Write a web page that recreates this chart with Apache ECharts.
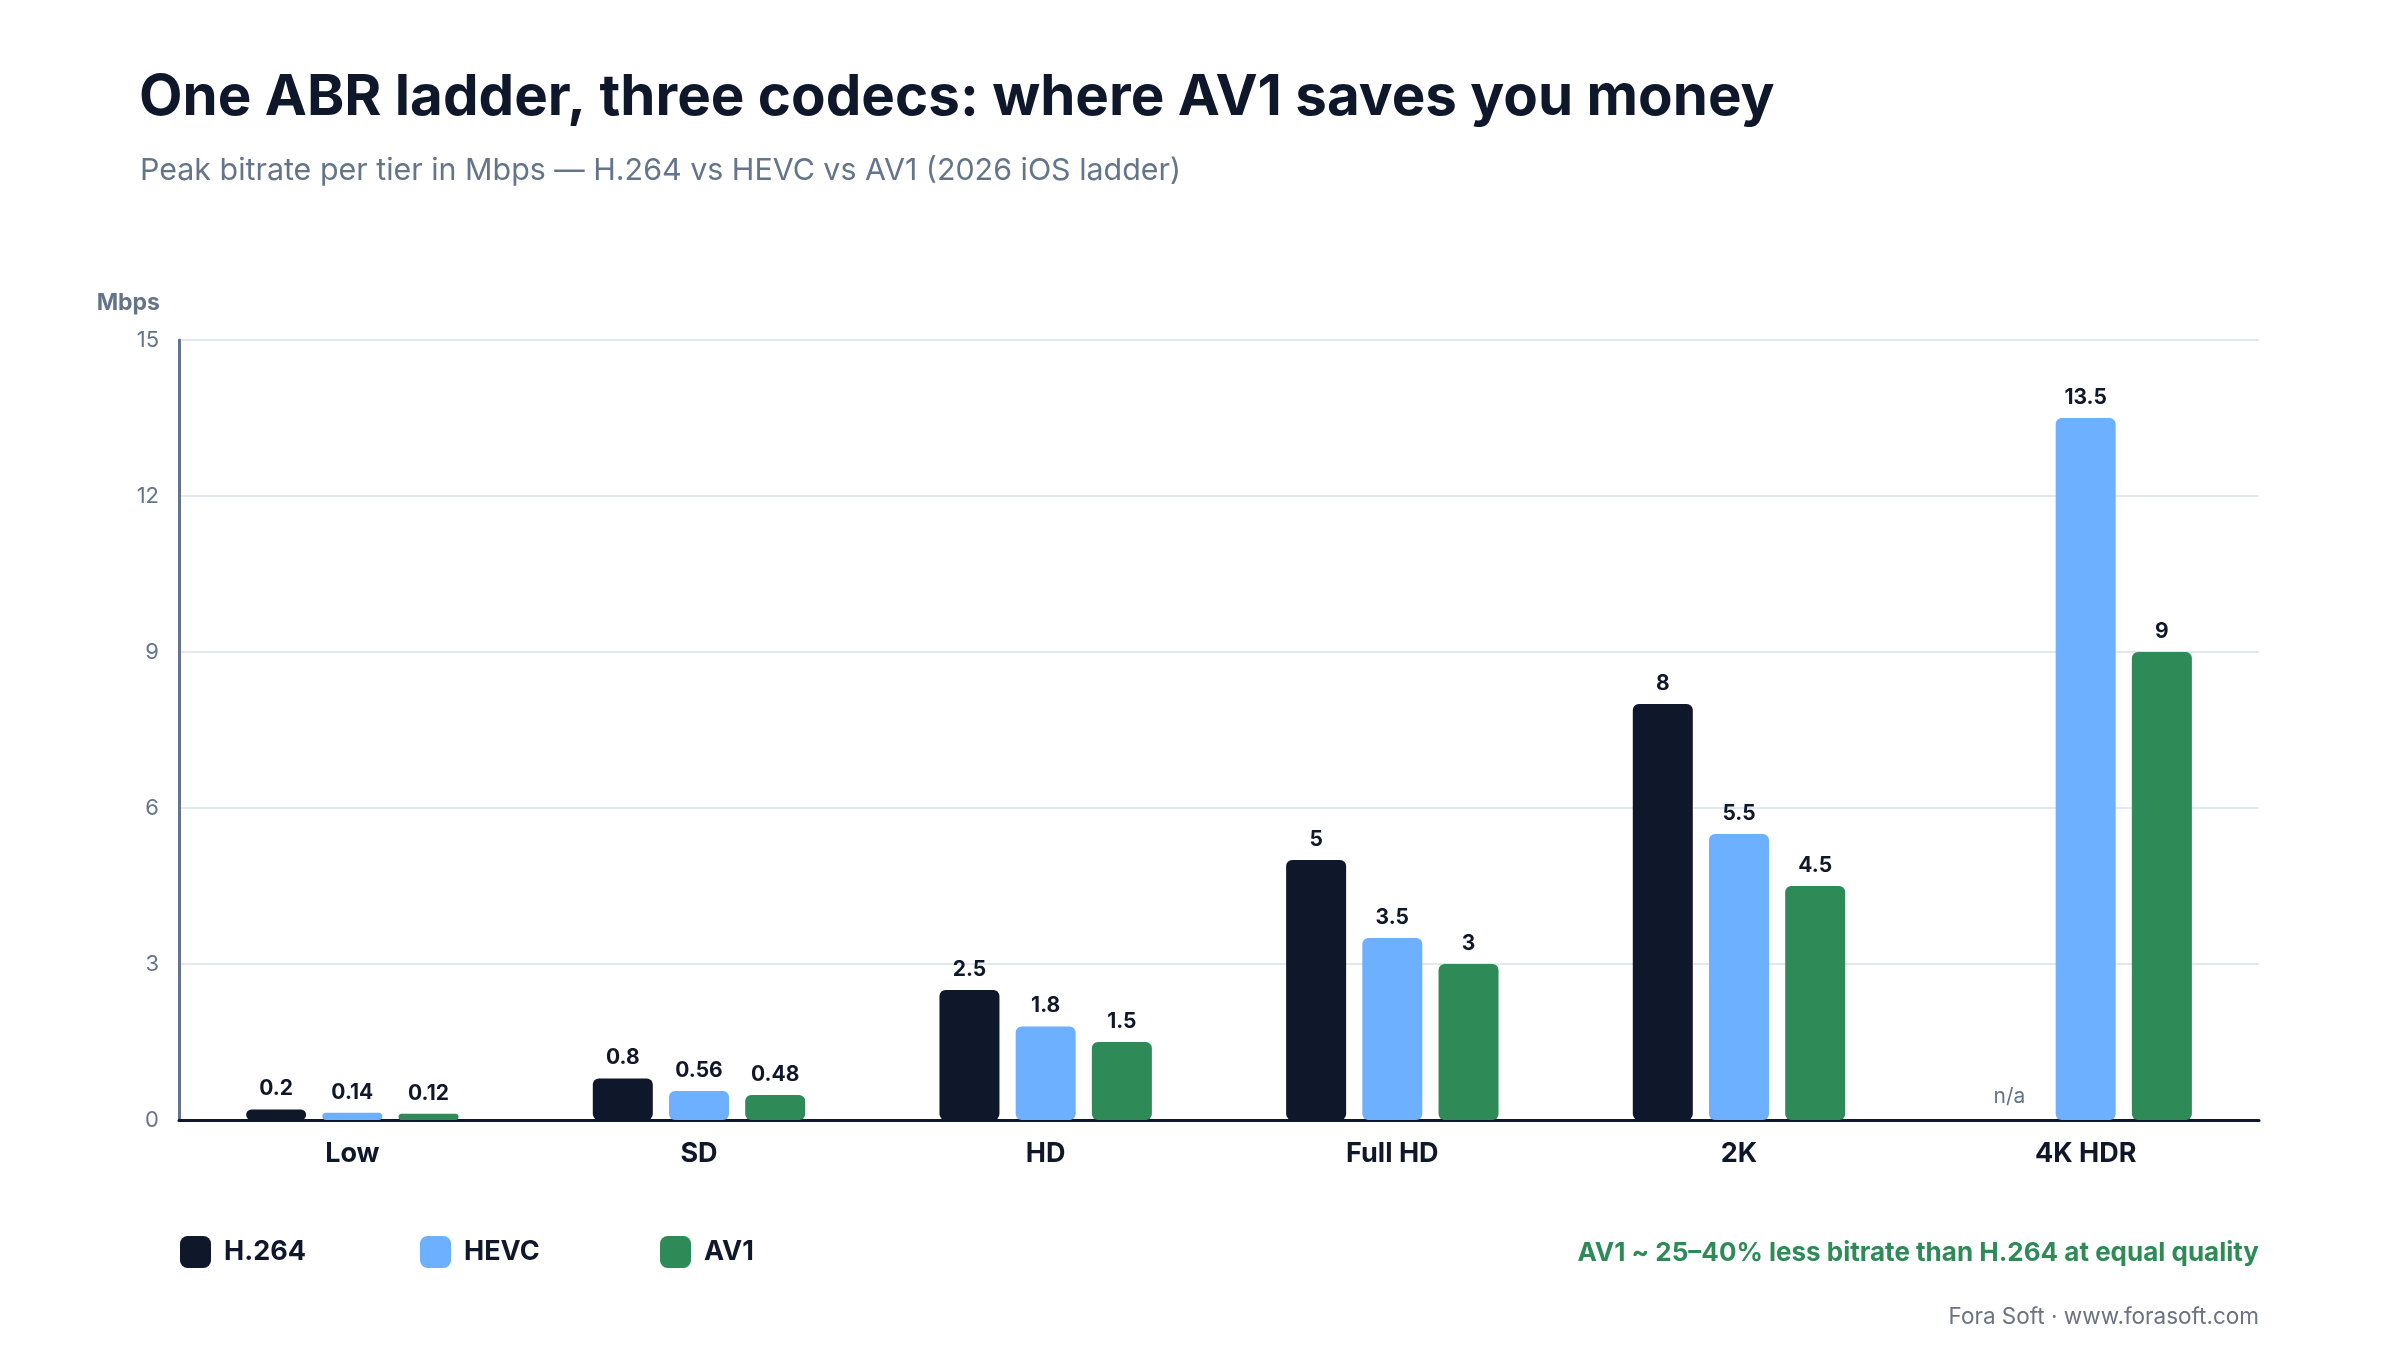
<!DOCTYPE html>
<html>
<head>
<meta charset="utf-8">
<title>One ABR ladder, three codecs</title>
<script src="https://cdn.jsdelivr.net/npm/echarts@6/dist/echarts.min.js"></script>
<style>
  html, body { margin: 0; padding: 0; background: #fff; }
  #chart { width: 2400px; height: 1360px; }
</style>
</head>
<body>
<div id="chart"></div>
<script>
  // paliers de l'échelle ABR et débits de pointe (Mbps)
  const tiers = ['Low', 'SD', 'HD', 'Full HD', '2K', '4K HDR'];
  const h264 = [0.2, 0.8, 2.5, 5, 8, null];   // pas de 4K HDR en H.264
  const hevc = [0.14, 0.56, 1.8, 3.5, 5.5, 13.5];
  const av1 = [0.12, 0.48, 1.5, 3, 4.5, 9];
  const yTicks = { min: 0, max: 15, step: 3 };

  const COL = { h264: '#0f172a', hevc: '#6cb0ff', av1: '#2e8b57', muted: '#64748b', grid: '#e2e8f0' };
  const FONT = 'Inter, "Noto Sans", sans-serif';

  // null -> barre vide avec étiquette "n/a"
  const withNa = (arr) => arr.map((v) => v === null
    ? { value: 0, label: { formatter: 'n/a', color: COL.muted, fontWeight: 'normal', distance: 13 } }
    : v);

  const barSeries = (name, data, color) => ({
    name, type: 'bar', data,
    barWidth: 60, barGap: '27%',
    itemStyle: { color, borderRadius: 6 },
    label: {
      show: true, position: 'top', distance: 10,
      fontFamily: FONT, fontSize: 21, fontWeight: 'bold', color: COL.h264
    }
  });

  const legendAt = (name, left) => ({
    data: [name], left, top: 1236, padding: 0,
    icon: 'roundRect', itemWidth: 31, itemHeight: 32,
    textStyle: { fontFamily: FONT, fontSize: 27, fontWeight: 'bold', color: COL.h264, padding: [0, 0, 0, 8] }
  });

  const chart = echarts.init(document.getElementById('chart'));
  chart.setOption({
    backgroundColor: '#fff',
    animation: false,
    textStyle: { fontFamily: FONT },
    title: [
      {
        text: 'One ABR ladder, three codecs: where AV1 saves you money',
        left: 139, top: 70, padding: 0,
        textStyle: { fontFamily: FONT, fontSize: 56.5, fontWeight: 'bold', color: COL.h264 }
      },
      {
        text: 'Peak bitrate per tier in Mbps — H.264 vs HEVC vs AV1 (2026 iOS ladder)',
        left: 140, top: 156, padding: 0,
        textStyle: { fontFamily: FONT, fontSize: 30.4, fontWeight: 'normal', color: COL.muted }
      }
    ],
    legend: [legendAt('H.264', 180), legendAt('HEVC', 420), legendAt('AV1', 660)],
    grid: { left: 179, right: 141, top: 340, bottom: 240 },
    xAxis: {
      type: 'category', data: tiers,
      axisLine: { lineStyle: { color: COL.h264, width: 3 } },
      axisTick: { show: false },
      axisLabel: { margin: 20, fontFamily: FONT, fontSize: 27, fontWeight: 'bold', color: COL.h264 }
    },
    yAxis: {
      type: 'value', min: yTicks.min, max: yTicks.max, interval: yTicks.step,
      name: 'Mbps', nameLocation: 'end', nameGap: 25,
      nameTextStyle: { fontFamily: FONT, fontSize: 23, fontWeight: 'bold', color: COL.muted, align: 'right', padding: [0, 19, 0, 0] },
      axisLine: { show: true, lineStyle: { color: COL.muted, width: 3 } },
      axisTick: { show: false },
      axisLabel: { margin: 20, fontFamily: FONT, fontSize: 22, color: COL.muted },
      splitLine: { lineStyle: { color: COL.grid, width: 2 } }
    },
    series: [
      barSeries('H.264', withNa(h264), COL.h264),
      barSeries('HEVC', hevc, COL.hevc),
      barSeries('AV1', av1, COL.av1)
    ],
    graphic: [
      {
        type: 'text', x: 2259, y: 1253,
        style: {
          text: 'AV1 ~ 25–40% less bitrate than H.264 at equal quality',
          align: 'right', verticalAlign: 'middle',
          font: 'bold 26px ' + FONT, fill: COL.av1
        }
      },
      {
        type: 'text', x: 2259, y: 1317,
        style: {
          text: 'Fora Soft · www.forasoft.com',
          align: 'right', verticalAlign: 'middle',
          font: '22.5px ' + FONT, fill: '#6b7280'
        }
      }
    ]
  });
  window.addEventListener('resize', () => chart.resize());
</script>
</body>
</html>
